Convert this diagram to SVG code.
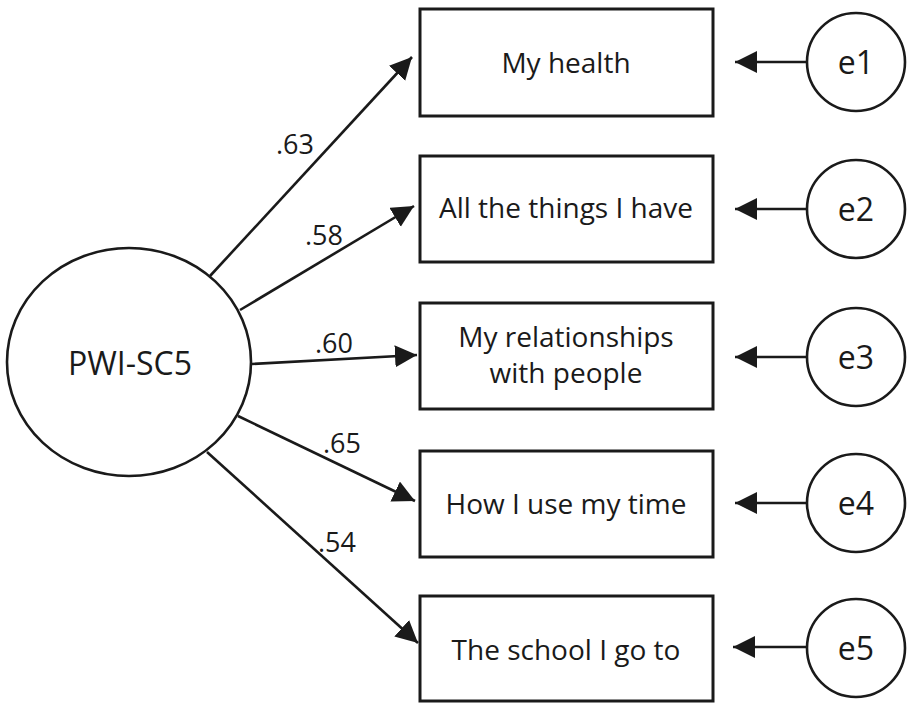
<svg xmlns="http://www.w3.org/2000/svg" width="907" height="703" viewBox="0 0 907 703">
<style>
.box{fill:#fff;stroke:#1a1a1a;stroke-width:3}
.circ{fill:#fff;stroke:#1a1a1a;stroke-width:2.6}
.lbl{font-family:"Open Sans","Liberation Sans",sans-serif;font-size:28px;fill:#1a1a1a;text-anchor:middle}
.big{font-size:32px}
.coef{font-family:"Open Sans","Liberation Sans",sans-serif;font-size:27px;fill:#1a1a1a}
.con{stroke:#1a1a1a;stroke-width:2.6;fill:none;marker-end:url(#ah)}
</style>
<defs>
<marker id="ah" markerUnits="userSpaceOnUse" markerWidth="24" markerHeight="24" refX="22" refY="11" orient="auto">
<path d="M0,0 L22,11 L0,22 z" fill="#1a1a1a"/>
</marker>
</defs>
<rect width="907" height="703" fill="#fff"/>
<g id="connectors">
<line class="con" x1="210" y1="276" x2="412" y2="57"/>
<line class="con" x1="240" y1="310" x2="414" y2="206"/>
<line class="con" x1="252" y1="364" x2="417" y2="355"/>
<line class="con" x1="238" y1="416" x2="415" y2="501"/>
<line class="con" x1="207" y1="452" x2="418" y2="643"/>
<line class="con" x1="807" y1="62" x2="735" y2="62"/>
<line class="con" x1="807" y1="209" x2="735" y2="209"/>
<line class="con" x1="807" y1="357" x2="735" y2="357"/>
<line class="con" x1="807" y1="503" x2="735" y2="503"/>
<line class="con" x1="807" y1="647" x2="733" y2="647"/>
</g>
<g id="coefs">
<text class="coef" x="276" y="154">.63</text>
<text class="coef" x="305" y="245">.58</text>
<text class="coef" x="315" y="353">.60</text>
<text class="coef" x="323" y="453">.65</text>
<text class="coef" x="318" y="552">.54</text>
</g>
<g id="PWI-SC5">
<ellipse class="circ" cx="129" cy="362" rx="122" ry="114"/>
<text class="lbl big" x="130" y="375">PWI-SC5</text>
</g>
<g id="item1">
<rect class="box" x="420" y="9" width="293" height="107"/>
<text class="lbl" x="566" y="73">My health</text>
</g>
<g id="item2">
<rect class="box" x="420" y="156" width="293" height="106"/>
<text class="lbl" x="566" y="218">All the things I have</text>
</g>
<g id="item3">
<rect class="box" x="420" y="303" width="293" height="106"/>
<text class="lbl" x="566" y="347">My relationships</text>
<text class="lbl" x="566" y="383">with people</text>
</g>
<g id="item4">
<rect class="box" x="420" y="451" width="293" height="106"/>
<text class="lbl" x="566" y="514">How I use my time</text>
</g>
<g id="item5">
<rect class="box" x="420" y="596" width="293" height="105"/>
<text class="lbl" x="566" y="660">The school I go to</text>
</g>
<g id="e1"><circle class="circ" cx="856" cy="62" r="49"/><text class="lbl big" x="856" y="74">e1</text></g>
<g id="e2"><circle class="circ" cx="856" cy="209" r="49"/><text class="lbl big" x="856" y="221">e2</text></g>
<g id="e3"><circle class="circ" cx="856" cy="357" r="49"/><text class="lbl big" x="856" y="369">e3</text></g>
<g id="e4"><circle class="circ" cx="856" cy="503" r="49"/><text class="lbl big" x="856" y="515">e4</text></g>
<g id="e5"><circle class="circ" cx="856" cy="648" r="49"/><text class="lbl big" x="856" y="660">e5</text></g>
</svg>
